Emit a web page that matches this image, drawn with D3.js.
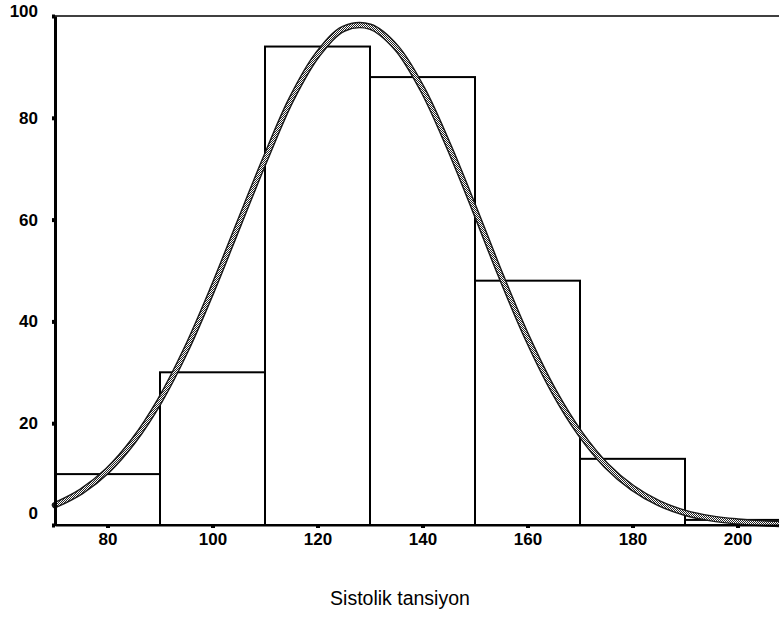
<!DOCTYPE html>
<html>
<head>
<meta charset="utf-8">
<script src="https://cdn.jsdelivr.net/npm/d3@7/dist/d3.min.js"></script>
<style>
html,body{margin:0;padding:0;background:#fff;}
svg{display:block;}
</style>
</head>
<body>
<script>
// Histogram bins (lower edge, upper edge) and counts
const binStarts = [70, 90, 110, 130, 150, 170, 190];
const binEnds   = [90, 110, 130, 150, 170, 190, 210];
const counts    = [10, 30, 94, 88, 48, 13, 1];

// Fitted normal curve
const curveX = [70,75,80,85,90,95,100,105,110,115,120,125,130,135,140,145,150,155,160,165,170,175,180,185,190,195,200,205,210];
const curveY = [3.9,6.6,10.7,16.6,24.5,34.5,46.3,59.1,71.8,83.6,92.4,97.5,97.9,93.8,85.6,74.4,61.8,48.8,36.7,26.3,18.0,11.7,7.3,4.3,2.4,1.3,0.7,0.33,0.15];

const xTicks = [80, 100, 120, 140, 160, 180, 200];
const yTicks = [0, 20, 40, 60, 80, 100];
const xTitle = "Sistolik tansiyon";

const W = 779, H = 621;
const svg = d3.select("body").append("svg").attr("width", W).attr("height", H);

const defs = svg.append("defs");
const pat = defs.append("pattern").attr("id", "checker").attr("patternUnits", "userSpaceOnUse")
  .attr("width", 2).attr("height", 2);
pat.append("rect").attr("width", 2).attr("height", 2).attr("fill", "#fff");
pat.append("rect").attr("width", 1).attr("height", 1).attr("fill", "#222");
pat.append("rect").attr("x", 1).attr("y", 1).attr("width", 1).attr("height", 1).attr("fill", "#222");

const x = d3.scaleLinear().domain([70, 210]).range([55, 790]);
const y = d3.scaleLinear().domain([0, 100]).range([525, 16]);

// bars
svg.append("g").selectAll("rect").data(counts).join("rect")
  .attr("x", (d, i) => x(binStarts[i]))
  .attr("y", d => y(d))
  .attr("width", (d, i) => x(binEnds[i]) - x(binStarts[i]))
  .attr("height", d => y(0) - y(d))
  .attr("fill", "#fff")
  .attr("stroke", "#000")
  .attr("stroke-width", 2);

// top border
svg.append("line").attr("x1", x(70)).attr("x2", W).attr("y1", y(100)).attr("y2", y(100))
  .attr("stroke", "#000").attr("stroke-width", 1.6);

// curve
const pts = curveX.map((v, i) => [v, curveY[i]]);
const line = d3.line().x(d => x(d[0])).y(d => y(d[1])).curve(d3.curveCatmullRom);
svg.append("path").attr("d", line(pts)).attr("fill", "none")
  .attr("stroke", "#1a1a1a").attr("stroke-width", 6.5).attr("stroke-linecap", "round");
svg.append("path").attr("d", line(pts)).attr("fill", "none")
  .attr("stroke", "url(#checker)").attr("stroke-width", 3.6);

// axes
const xAxis = d3.axisBottom(x).tickValues(xTicks).tickSize(3).tickSizeOuter(0);
const gx = svg.append("g").attr("transform", `translate(0,${y(0)})`).call(xAxis);
gx.select(".domain").attr("stroke-width", 2.2);
gx.selectAll(".tick line").attr("stroke-width", 4);
gx.selectAll(".tick text").attr("font-family", "'Liberation Sans', Arial, sans-serif")
  .attr("font-size", 17).attr("font-weight", "bold").attr("fill", "#000").attr("dy", "0.85em");

const yAxis = d3.axisLeft(y).tickValues(yTicks).tickSize(3).tickSizeOuter(0).tickPadding(14);
const gy = svg.append("g").attr("transform", `translate(${x(70)},0)`).call(yAxis);
gy.select(".domain").attr("stroke-width", 3);
gy.selectAll(".tick line").attr("stroke-width", 4);
gy.selectAll(".tick text").attr("font-family", "'Liberation Sans', Arial, sans-serif")
  .attr("font-size", 17).attr("font-weight", "bold").attr("fill", "#000")
  .attr("dy", d => d === 0 ? "-0.38em" : (d === 100 ? "0.02em" : "0.32em"));

svg.append("text").attr("x", 400).attr("y", 605).attr("text-anchor", "middle")
  .attr("font-family", "'Liberation Sans', Arial, sans-serif").attr("font-size", 19.5)
  .attr("fill", "#000").text(xTitle);
</script>
</body>
</html>
